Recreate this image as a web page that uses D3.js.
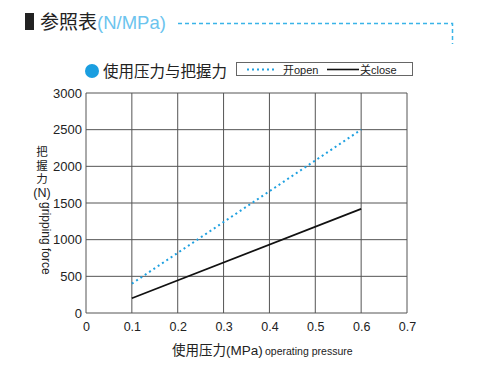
<!DOCTYPE html>
<html><head><meta charset="utf-8">
<script src="https://cdn.jsdelivr.net/npm/d3@7"></script>
<style>
body{margin:0;background:#fff;}
text{font-family:"Liberation Sans","Noto Sans CJK SC",sans-serif;}
</style></head>
<body>
<svg id="c" width="478" height="366"></svg>
<script>
const pressure = [0.1, 0.6];
const openForce = [400, 2500];
const closeForce = [200, 1420];
const xTicks = [0, 0.1, 0.2, 0.3, 0.4, 0.5, 0.6, 0.7];
const yTicks = [0, 500, 1000, 1500, 2000, 2500, 3000];
const seriesNames = ["开open", "关close"];

const svg = d3.select("#c");
const cjk = '"Noto Sans CJK SC","Liberation Sans",sans-serif';
const blue = "#1ea0e0";

// header
svg.append("rect").attr("x",25).attr("y",13).attr("width",9).attr("height",17).attr("fill","#222");
svg.append("text").attr("x",40).attr("y",29).attr("font-size",19).attr("font-family",cjk).attr("fill","#222").text("参照表");
svg.append("text").attr("x",97).attr("y",29).attr("font-size",18.5).attr("font-family",cjk).attr("fill","#6cc4ee").text("(N/MPa)");
svg.append("path").attr("d","M178,23.5H452.5V44").attr("fill","none").attr("stroke","#3ab4e8").attr("stroke-width",1.5).attr("stroke-dasharray","4,3");

// legend heading
svg.append("circle").attr("cx",92).attr("cy",71).attr("r",7).attr("fill","#1a9ee0");
svg.append("text").attr("x",103).attr("y",77).attr("font-size",15.5).attr("font-family",cjk).attr("fill","#222").text("使用压力与把握力");

// legend box
svg.append("rect").attr("x",236.5).attr("y",62.5).attr("width",176).attr("height",13).attr("fill","#fff").attr("stroke","#666").attr("stroke-width",1);
svg.append("line").attr("x1",247).attr("x2",274).attr("y1",69.5).attr("y2",69.5).attr("stroke",blue).attr("stroke-width",2).attr("stroke-dasharray","2,3");
svg.append("text").attr("x",283).attr("y",73.5).attr("font-size",11).attr("font-family",cjk).attr("fill","#222").text(seriesNames[0]);
svg.append("line").attr("x1",327).attr("x2",359).attr("y1",69.5).attr("y2",69.5).attr("stroke","#111").attr("stroke-width",1.6);
svg.append("text").attr("x",360).attr("y",73.5).attr("font-size",11).attr("font-family",cjk).attr("fill","#222").text(seriesNames[1]);

// scales
const x = d3.scaleLinear().domain([0,0.7]).range([86,407]);
const y = d3.scaleLinear().domain([0,3000]).range([313,93]);

const g = svg.append("g");
g.selectAll(".vg").data(xTicks).join("line")
 .attr("x1",d=>x(d)).attr("x2",d=>x(d)).attr("y1",y(0)).attr("y2",y(3000))
 .attr("stroke","#555").attr("stroke-width",1);
g.selectAll(".hg").data(yTicks).join("line")
 .attr("x1",x(0)).attr("x2",x(0.7)).attr("y1",d=>y(d)).attr("y2",d=>y(d))
 .attr("stroke","#555").attr("stroke-width",1);

const xa = svg.append("g").attr("transform",`translate(0,${y(0)})`)
 .call(d3.axisBottom(x).tickValues(xTicks).tickSize(0).tickPadding(9).tickFormat(d=>d===0?"0":d3.format(".1f")(d)));
xa.select(".domain").remove();
xa.selectAll("text").attr("font-size",12.5).attr("fill","#222").attr("font-family","'Liberation Sans',sans-serif");
const ya = svg.append("g").attr("transform",`translate(${x(0)},0)`)
 .call(d3.axisLeft(y).tickValues(yTicks).tickSize(0).tickPadding(4).tickFormat(d3.format("d")));
ya.select(".domain").remove();
ya.selectAll("text").attr("font-size",13).attr("fill","#222").attr("font-family","'Liberation Sans',sans-serif");

const line = d3.line().x(d=>x(d[0])).y(d=>y(d[1]));
svg.append("path").datum(d3.zip(pressure, closeForce)).attr("d",line)
 .attr("fill","none").attr("stroke","#111").attr("stroke-width",1.7);
svg.append("path").datum(d3.zip(pressure, openForce)).attr("d",line)
 .attr("fill","none").attr("stroke",blue).attr("stroke-width",2).attr("stroke-dasharray","2,3.2");

// y label
const yl = ["把","握","力"];
svg.selectAll(".yl").data(yl).join("text").attr("x",42).attr("y",(d,i)=>156+i*13.5)
 .attr("text-anchor","middle").attr("font-size",11.5).attr("font-family",cjk).attr("fill","#222").text(d=>d);
svg.append("text").attr("x",42).attr("y",197).attr("text-anchor","middle").attr("font-size",12.5).attr("fill","#222").text("(N)");
svg.append("text").attr("transform","translate(41.5,202) rotate(90)").attr("font-size",12).attr("fill","#222").text("gripping force");

// x label
svg.append("text").attr("x",172).attr("y",355).attr("font-size",13.5).attr("font-family",cjk).attr("fill","#222").text("使用压力(MPa)");
svg.append("text").attr("x",265).attr("y",355).attr("font-size",10.5).attr("fill","#222").text("operating pressure");
</script>
</body></html>
